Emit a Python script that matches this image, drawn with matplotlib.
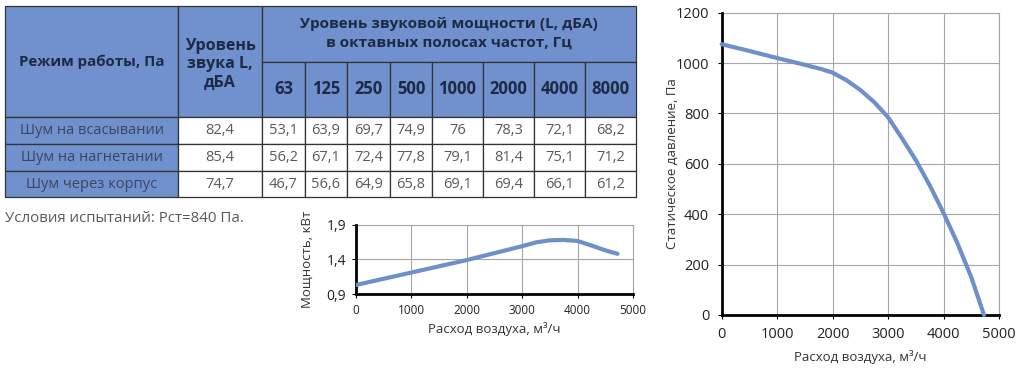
import numpy as np
import matplotlib
matplotlib.use("Agg")
import matplotlib.pyplot as plt
from matplotlib.patches import Rectangle

plt.rcParams['font.family'] = ['Open Sans', 'DejaVu Sans']

# table data
modes = ["Шум на всасывании", "Шум на нагнетании", "Шум через корпус"]
freqs = ["63", "125", "250", "500", "1000", "2000", "4000", "8000"]
level_total = ["82,4", "85,4", "74,7"]
level_bands = [
    ["53,1", "63,9", "69,7", "74,9", "76", "78,3", "72,1", "68,2"],
    ["56,2", "67,1", "72,4", "77,8", "79,1", "81,4", "75,1", "71,2"],
    ["46,7", "56,6", "64,9", "65,8", "69,1", "69,4", "66,1", "61,2"],
]

# pressure curve, m3/h -> Pa
flow_p = [0, 500, 1000, 1500, 1800, 2000, 2250, 2500, 2750, 3000, 3250, 3500, 3750, 4000, 4250, 4500, 4730]
pressure = [1075, 1048, 1020, 993, 976, 962, 932, 893, 845, 785, 702, 615, 515, 405, 285, 150, 0]

# power curve, m3/h -> kW
flow_w = [0, 500, 1000, 1500, 2000, 2500, 3000, 3250, 3500, 3750, 4000, 4250, 4500, 4720]
power = [1.03, 1.12, 1.21, 1.30, 1.39, 1.49, 1.59, 1.645, 1.675, 1.68, 1.665, 1.60, 1.53, 1.48]

blue = '#7091cd'
line_blue = '#6f8fcb'
navy = '#1d2a45'
gray_txt = '#5a5a5a'
grid_c = '#a6a6a6'

W, H = 1023, 372
fig = plt.figure(figsize=(W / 100, H / 100), dpi=100)

# ---- table drawn in pixel coordinates ----
tab = fig.add_axes([0, 0, 1, 1])
tab.set_xlim(0, W)
tab.set_ylim(H, 0)
tab.axis('off')

xs = [5, 178, 262, 305, 347, 390, 432, 483, 534, 585, 636]
ys = [6, 62, 117, 144, 171, 197]
edge = '#333333'

def cell(x0, x1, y0, y1, fc, text, color, bold=False, size=11, dy=0, ls=1.1):
    tab.add_patch(Rectangle((x0, y0), x1 - x0, y1 - y0, facecolor=fc,
                            edgecolor=edge, linewidth=0.9))
    tab.text((x0 + x1) / 2, (y0 + y1) / 2 + dy, text, ha='center', va='center',
             color=color, fontsize=size, fontweight='bold' if bold else 'normal',
             linespacing=ls)

cell(xs[0], xs[1], ys[0], ys[2], blue, "Режим работы, Па", navy, True, 10.8)
cell(xs[1], xs[2], ys[0], ys[2], blue, "Уровень\nзвука L,\nдБА", navy, True, 11.5,
     dy=3, ls=1.2)
cell(xs[2], xs[-1], ys[0], ys[1], blue,
     "Уровень звуковой мощности (L, дБА)\nв октавных полосах частот, Гц", navy, True, 11,
     dy=-1, ls=1.4)
for j, f in enumerate(freqs):
    cell(xs[2 + j], xs[3 + j], ys[1], ys[2], blue, f, navy, True, 12)

for i, m in enumerate(modes):
    y0, y1 = ys[2 + i], ys[3 + i]
    cell(xs[0], xs[1], y0, y1, blue, m, '#3b465e', False, 10.5)
    cell(xs[1], xs[2], y0, y1, 'white', level_total[i], gray_txt, False, 10.5)
    for j, v in enumerate(level_bands[i]):
        cell(xs[2 + j], xs[3 + j], y0, y1, 'white', v, gray_txt, False, 10.5)

tab.text(5, 219, "Условия испытаний: Pст=840 Па.", ha='left', va='center',
         color=gray_txt, fontsize=10.8)
tab.text(870, 36, "WNP 70-40/31.2DM", ha='left', va='center',
         color='#333333', fontsize=9.5)

def style(ax):
    ax.grid(True, color=grid_c, linewidth=0.8)
    ax.set_axisbelow(True)
    for s in ['left', 'bottom']:
        ax.spines[s].set_linewidth(2.0)
        ax.spines[s].set_color('black')
        ax.spines[s].set_zorder(3)
    for s in ['top', 'right']:
        ax.spines[s].set_linewidth(0.8)
        ax.spines[s].set_color(grid_c)
    ax.tick_params(length=3, width=0.8, color='black', labelcolor='#222222')

# ---- pressure chart ----
axp = fig.add_axes([721.7 / W, 1 - 315 / H, 277.3 / W, 302.3 / H])
axp.plot(flow_p, pressure, color=line_blue, linewidth=3, solid_capstyle='round',
         solid_joinstyle='round', zorder=4, clip_on=False)
axp.set_xlim(0, 5000)
axp.set_ylim(0, 1200)
axp.set_xticks(np.arange(0, 5001, 1000))
axp.set_yticks(np.arange(0, 1201, 200))
style(axp)
axp.tick_params(labelsize=10.5, pad=6)
axp.set_xlabel("Расход воздуха, м³/ч", fontsize=9.5, color='#333333')
axp.xaxis.set_label_coords(0.5, (315 - 357) / 302.3)
axp.xaxis.label.set_va('center')
axp.set_ylabel("Статическое давление, Па", fontsize=9.5, color='#333333')
axp.yaxis.set_label_coords((672 - 721.7) / 277.3, 0.5)
axp.yaxis.label.set_va('center')

# ---- power chart ----
axw = fig.add_axes([356 / W, 1 - 294 / H, 277 / W, 69.3 / H])
axw.plot(flow_w, power, color=line_blue, linewidth=3, solid_capstyle='round',
         solid_joinstyle='round', zorder=4)
axw.set_xlim(0, 5000)
axw.set_ylim(0.9, 1.9)
axw.set_xticks(np.arange(0, 5001, 1000))
axw.set_yticks([0.9, 1.4, 1.9])
axw.set_yticklabels(["0,9", "1,4", "1,9"])
style(axw)
axw.tick_params(axis='x', labelsize=8.5, pad=4)
axw.tick_params(axis='y', labelsize=10, pad=4)
axw.set_xlabel("Расход воздуха, м³/ч", fontsize=9.5, color='#333333')
axw.xaxis.set_label_coords(0.5, (294 - 329) / 69.3)
axw.xaxis.label.set_va('center')
axw.set_ylabel("Мощность, кВт", fontsize=9.5, color='#333333')
axw.yaxis.set_label_coords((307 - 356) / 277, 0.5)
axw.yaxis.label.set_va('center')

fig.savefig("out.png", dpi=100)
